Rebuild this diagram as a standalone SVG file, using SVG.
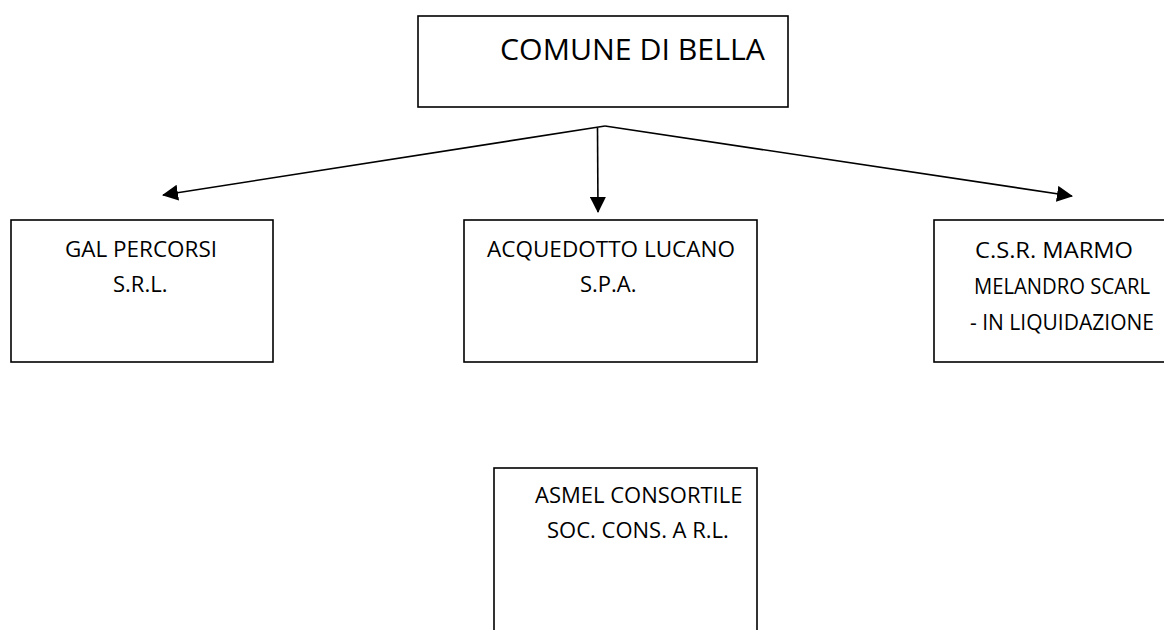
<svg xmlns="http://www.w3.org/2000/svg" width="1164" height="630" viewBox="0 0 1164 630">
<style>
.box{fill:#fff;stroke:#000;stroke-width:1.6}
.t{font-family:"Open Sans","Liberation Sans",sans-serif;font-size:22px;fill:#000}
.title{font-family:"Open Sans","Liberation Sans",sans-serif;font-size:30px;fill:#000}
.c{fill:none;stroke:#000;stroke-width:1.6}
</style>
<defs>
<marker id="ah" markerUnits="userSpaceOnUse" markerWidth="16" markerHeight="16" viewBox="0 0 16 16" refX="15" refY="8" orient="auto">
<path d="M0,0 L16,8 L0,16 Z" fill="#000"/>
</marker>
</defs>
<rect width="1164" height="630" fill="#fff"/>
<g id="comune">
<rect class="box" x="418" y="16" width="370" height="91"/>
<text class="title" x="500" y="60" textLength="265" lengthAdjust="spacingAndGlyphs">COMUNE DI BELLA</text>
</g>
<g id="gal">
<rect class="box" x="11" y="220" width="262" height="142"/>
<text class="t" x="65" y="257" textLength="152" lengthAdjust="spacingAndGlyphs">GAL PERCORSI</text>
<text class="t" x="113" y="292">S.R.L.</text>
</g>
<g id="acquedotto">
<rect class="box" x="464" y="220" width="293" height="142"/>
<text class="t" x="487" y="257" textLength="248" lengthAdjust="spacingAndGlyphs">ACQUEDOTTO LUCANO</text>
<text class="t" x="580" y="292">S.P.A.</text>
</g>
<g id="csr">
<rect class="box" x="934" y="220" width="240" height="142"/>
<text class="t" x="975" y="258" textLength="158" lengthAdjust="spacingAndGlyphs">C.S.R. MARMO</text>
<text class="t" x="974" y="294" textLength="176" lengthAdjust="spacingAndGlyphs">MELANDRO SCARL</text>
<text class="t" x="970" y="330" textLength="184" lengthAdjust="spacingAndGlyphs">- IN LIQUIDAZIONE</text>
</g>
<g id="asmel">
<rect class="box" x="494" y="468" width="263" height="180"/>
<text class="t" x="535" y="503">ASMEL CONSORTILE</text>
<text class="t" x="547" y="538">SOC. CONS. A R.L.</text>
</g>
<g id="connectors">
<line class="c" x1="605" y1="126" x2="163" y2="195" marker-end="url(#ah)"/>
<line class="c" x1="605" y1="126" x2="1072" y2="196" marker-end="url(#ah)"/>
<line class="c" x1="597.5" y1="128" x2="598" y2="212" marker-end="url(#ah)"/>
</g>
</svg>
